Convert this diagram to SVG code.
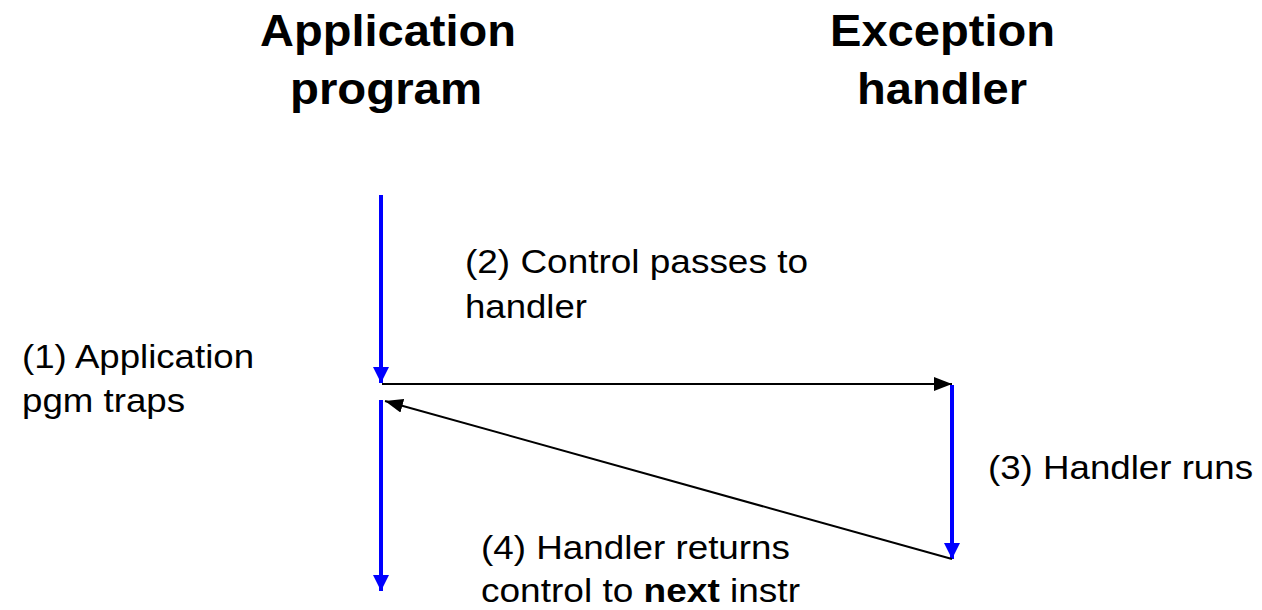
<svg xmlns="http://www.w3.org/2000/svg" width="1262" height="610" viewBox="0 0 1262 610">
<style>
.title{font-family:"Liberation Sans",Arial,sans-serif;font-weight:bold;font-size:44px;fill:#000}
.lbl{font-family:"Liberation Sans",Arial,sans-serif;font-size:33px;fill:#000}
.blue{stroke:#0000ff;stroke-width:4;fill:none}
.blk{stroke:#000;stroke-width:2;fill:none}
</style>
<defs>
<marker id="ab" markerWidth="4" markerHeight="4" refX="4" refY="2" orient="auto" markerUnits="strokeWidth" viewBox="0 0 4 4"><path d="M0,0 L4,2 L0,4 z" fill="#0000ff"/></marker>
<marker id="ak" markerWidth="9" markerHeight="7" refX="9" refY="3.5" orient="auto" markerUnits="strokeWidth" viewBox="0 0 9 7"><path d="M0,0 L9,3.5 L0,7 z" fill="#000"/></marker>
</defs>
<g id="title-app"><text class="title" x="260" y="46" textLength="256" lengthAdjust="spacingAndGlyphs">Application</text><text class="title" x="290" y="104" textLength="192" lengthAdjust="spacingAndGlyphs">program</text></g>
<g id="title-exc"><text class="title" x="830" y="46" textLength="225" lengthAdjust="spacingAndGlyphs">Exception</text><text class="title" x="857" y="104" textLength="170" lengthAdjust="spacingAndGlyphs">handler</text></g>
<g id="label1"><text class="lbl" x="22" y="368" textLength="232" lengthAdjust="spacingAndGlyphs">(1) Application</text><text class="lbl" x="22" y="412" textLength="163" lengthAdjust="spacingAndGlyphs">pgm traps</text></g>
<g id="label2"><text class="lbl" x="465" y="273" textLength="343" lengthAdjust="spacingAndGlyphs">(2) Control passes to</text><text class="lbl" x="465" y="318" textLength="122" lengthAdjust="spacingAndGlyphs">handler</text></g>
<g id="label3"><text class="lbl" x="988" y="479" textLength="265" lengthAdjust="spacingAndGlyphs">(3) Handler runs</text></g>
<g id="label4"><text class="lbl" x="481" y="559" textLength="309" lengthAdjust="spacingAndGlyphs">(4) Handler returns</text><text class="lbl" x="481" y="602" textLength="319" lengthAdjust="spacingAndGlyphs">control to <tspan font-weight="bold">next</tspan> instr</text></g>
<g id="connectors">
<line class="blue" x1="381" y1="195" x2="381" y2="383" marker-end="url(#ab)"/>
<line class="blk" x1="382" y1="384" x2="952" y2="384" marker-end="url(#ak)"/>
<line class="blue" x1="952" y1="385" x2="952" y2="559" marker-end="url(#ab)"/>
<line class="blk" x1="952" y1="559" x2="385" y2="401" marker-end="url(#ak)"/>
<line class="blue" x1="381" y1="400" x2="381" y2="591" marker-end="url(#ab)"/>
</g>
</svg>
